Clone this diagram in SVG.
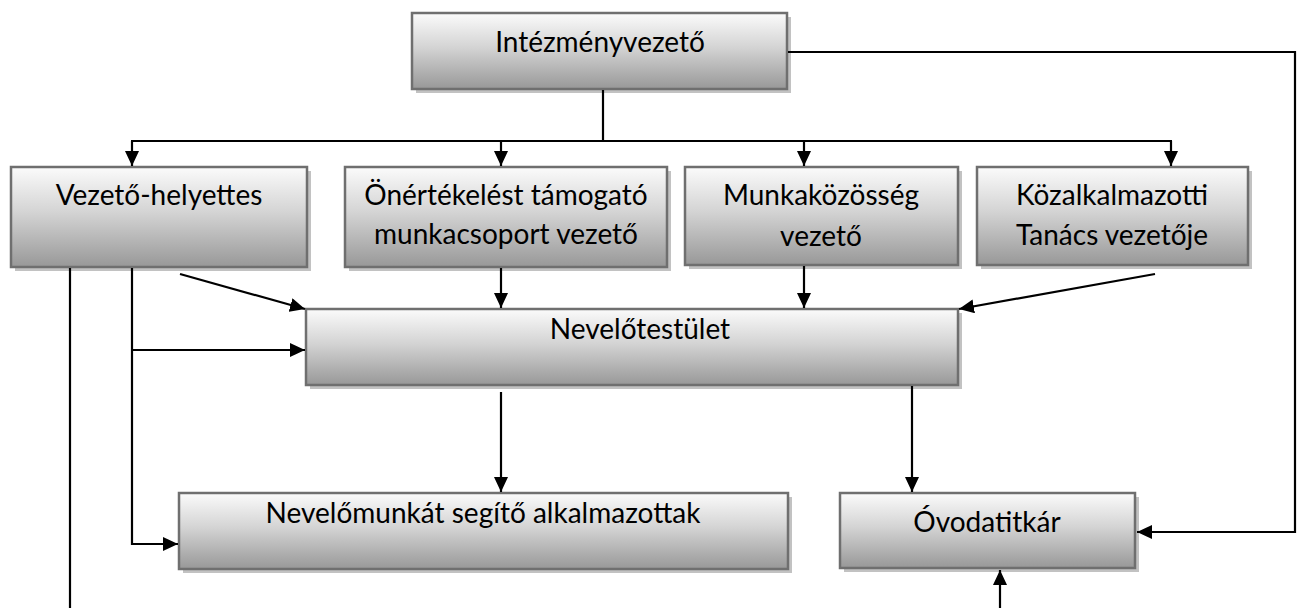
<svg xmlns="http://www.w3.org/2000/svg" width="1298" height="608" viewBox="0 0 1298 608">
<defs>
<linearGradient id="g" x1="0" y1="0" x2="0" y2="1">
<stop offset="0" stop-color="#fbfbfb"/>
<stop offset="0.45" stop-color="#d4d4d4"/>
<stop offset="1" stop-color="#989898"/>
</linearGradient>
<marker id="a" markerUnits="userSpaceOnUse" markerWidth="16" markerHeight="14" refX="15" refY="7" orient="auto">
<path d="M0,0 L15,7 L0,14 z" fill="#000"/>
</marker>
</defs>
<style>
.sh{fill:#c2c2c2}
.bx{fill:url(#g);stroke:#6f6f6f;stroke-width:2.5}
.t{font-family:Lato,"Open Sans","Liberation Sans",sans-serif;font-size:28px;fill:#000;text-anchor:middle}
.c{fill:none;stroke:#000;stroke-width:2.2}
.ar{marker-end:url(#a)}
</style>
<rect width="1298" height="608" fill="#fff"/>
<g id="intezmenyvezeto">
<rect class="sh" x="416" y="17" width="375" height="76"/>
<rect class="bx" x="412" y="13" width="375" height="76"/>
<text class="t" x="600" y="52">Intézményvezető</text>
</g>
<g id="vezeto-helyettes">
<rect class="sh" x="15" y="171" width="296" height="100"/>
<rect class="bx" x="11" y="167" width="296" height="100"/>
<text class="t" x="159" y="205">Vezető-helyettes</text>
</g>
<g id="onertekeles">
<rect class="sh" x="349" y="171" width="322" height="100"/>
<rect class="bx" x="345" y="167" width="322" height="100"/>
<text class="t" x="506" y="205">Önértékelést támogató</text>
<text class="t" x="506" y="244">munkacsoport vezető</text>
</g>
<g id="munkakozosseg">
<rect class="sh" x="689" y="171" width="273" height="98"/>
<rect class="bx" x="685" y="167" width="273" height="98"/>
<text class="t" x="821" y="205">Munkaközösség</text>
<text class="t" x="821" y="246">vezető</text>
</g>
<g id="kozalkalmazotti">
<rect class="sh" x="981" y="171" width="271" height="98"/>
<rect class="bx" x="977" y="167" width="271" height="98"/>
<text class="t" x="1112" y="205">Közalkalmazotti</text>
<text class="t" x="1112" y="245">Tanács vezetője</text>
</g>
<g id="nevelotestulet">
<rect class="sh" x="310" y="313" width="652" height="76"/>
<rect class="bx" x="306" y="309" width="652" height="76"/>
<text class="t" x="640" y="339">Nevelőtestület</text>
</g>
<g id="nevelomunkat">
<rect class="sh" x="183" y="497" width="609" height="76"/>
<rect class="bx" x="179" y="493" width="609" height="76"/>
<text class="t" x="483" y="523">Nevelőmunkát segítő alkalmazottak</text>
</g>
<g id="ovodatitkar">
<rect class="sh" x="844" y="497" width="295" height="75"/>
<rect class="bx" x="840" y="493" width="295" height="75"/>
<text class="t" x="987" y="532">Óvodatitkár</text>
</g>
<g id="connectors">
<polyline class="c ar" points="788,52 1295,52 1295,532 1137,532"/>
<line class="c" x1="603" y1="90" x2="603" y2="141"/>
<line class="c" x1="131" y1="141" x2="1172" y2="141"/>
<line class="c ar" x1="132" y1="141" x2="132" y2="166"/>
<line class="c ar" x1="501" y1="141" x2="501" y2="166"/>
<line class="c ar" x1="804" y1="141" x2="804" y2="166"/>
<line class="c ar" x1="1171" y1="141" x2="1171" y2="166"/>
<polyline class="c ar" points="132,268 132,544 178,544"/>
<line class="c ar" x1="132" y1="350" x2="305" y2="350"/>
<line class="c ar" x1="180" y1="274" x2="305" y2="309"/>
<line class="c" x1="70" y1="268" x2="70" y2="608"/>
<line class="c ar" x1="501" y1="268" x2="501" y2="308"/>
<line class="c ar" x1="804" y1="266" x2="804" y2="308"/>
<line class="c ar" x1="1155" y1="274" x2="959" y2="309"/>
<line class="c ar" x1="501" y1="392" x2="501" y2="492"/>
<line class="c ar" x1="912" y1="386" x2="912" y2="492"/>
<line class="c ar" x1="1000" y1="608" x2="1000" y2="570"/>
</g>
</svg>
